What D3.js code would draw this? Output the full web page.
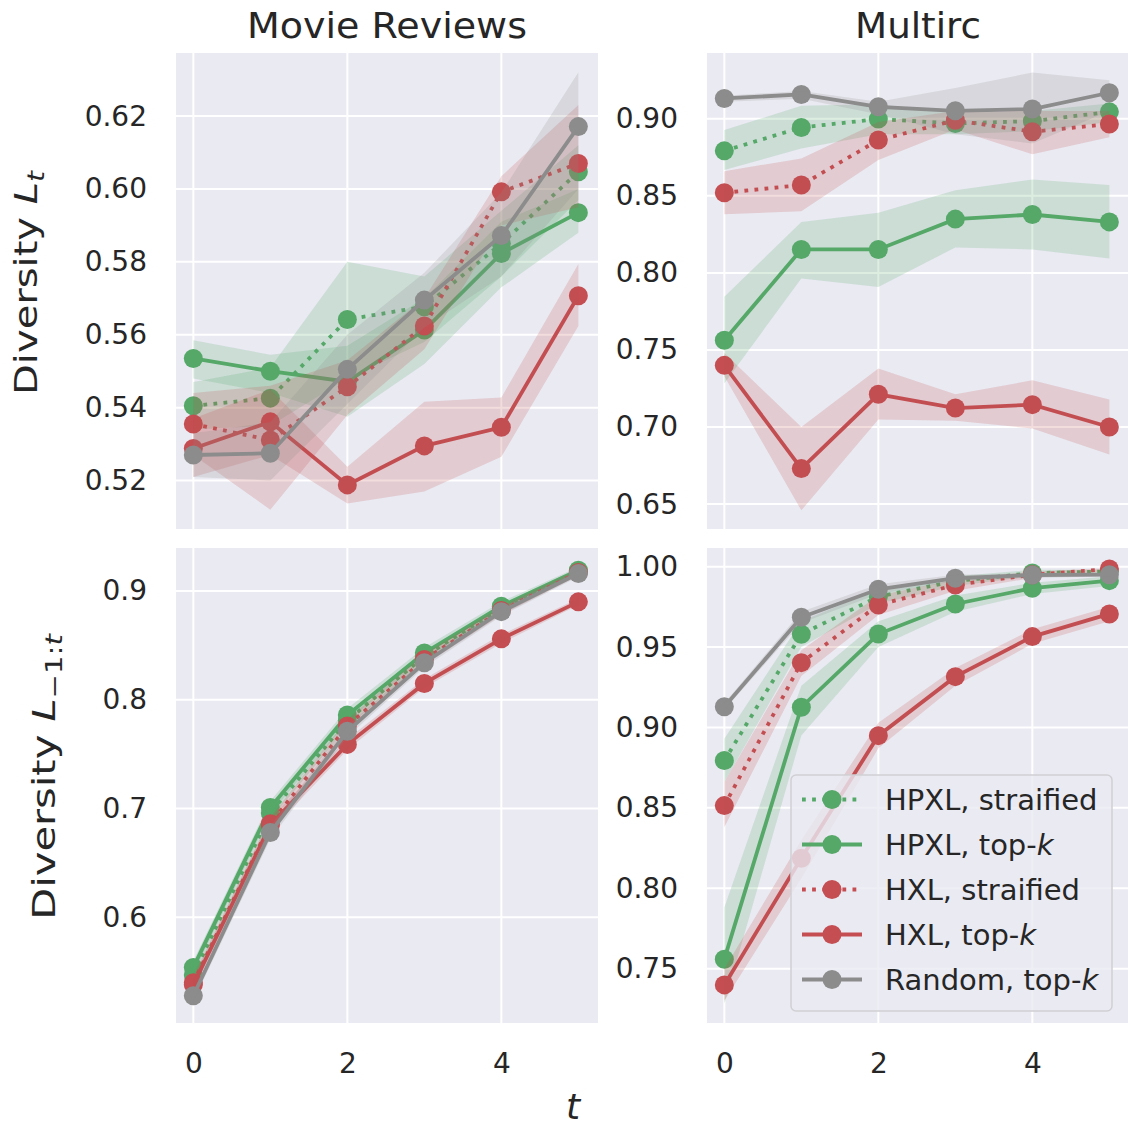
<!DOCTYPE html>
<html>
<head>
<meta charset="utf-8">
<script src="https://cdn.jsdelivr.net/npm/d3@7"></script>
<style>
  body { margin: 0; background: #fff; }
  svg { display: block; }
</style>
</head>
<body>
<div id="chart"></div>
<script>
/* DATA
------------------------------------------------------
*/
const steps = [0, 1, 2, 3, 4, 5];
const seriesNames = ["HPXL, straified", "HPXL, top-k", "HXL, straified", "HXL, top-k", "Random, top-k"];
const seriesColors = ["#55A868", "#55A868", "#C44E52", "#C44E52", "#8C8C8C"];
const seriesDotted = [true, false, true, false, false];

const panelTitles = ["Movie Reviews", "Multirc"];
const xTicks = [0, 2, 4];

// Movie Reviews, L_t
const mrLtTicks = [0.52, 0.54, 0.56, 0.58, 0.60, 0.62];
const mrLtMean = [
  [0.5405, 0.5426, 0.5642, 0.5677, 0.5850, 0.6047],
  [0.5535, 0.5500, 0.5471, 0.5613, 0.5823, 0.5935],
  [0.5355, 0.5311, 0.5457, 0.5624, 0.5992, 0.6070],
  [0.5288, 0.5361, 0.5188, 0.5295, 0.5346, 0.5707],
  [0.5270, 0.5275, 0.5505, 0.5695, 0.5872, 0.6171]
];
const mrLtLo = [
  [0.5340, 0.5350, 0.5480, 0.5580, 0.5760, 0.5970],
  [0.5480, 0.5440, 0.5375, 0.5520, 0.5730, 0.5880],
  [0.5270, 0.5120, 0.5380, 0.5560, 0.5900, 0.5950],
  [0.5210, 0.5270, 0.5137, 0.5170, 0.5265, 0.5624],
  [0.5210, 0.5200, 0.5410, 0.5620, 0.5760, 0.6000]
];
const mrLtHi = [
  [0.5470, 0.5510, 0.5800, 0.5760, 0.5940, 0.6120],
  [0.5585, 0.5545, 0.5570, 0.5700, 0.5910, 0.6000],
  [0.5440, 0.5460, 0.5530, 0.5700, 0.6035, 0.6230],
  [0.5370, 0.5450, 0.5238, 0.5416, 0.5428, 0.5794],
  [0.5330, 0.5360, 0.5600, 0.5770, 0.5990, 0.6320]
];

// Multirc, L_t
const mcLtTicks = [0.65, 0.70, 0.75, 0.80, 0.85, 0.90];
const mcLtMean = [
  [0.8792, 0.8944, 0.8998, 0.8970, 0.8985, 0.9045],
  [0.7563, 0.8152, 0.8152, 0.8349, 0.8379, 0.8331],
  [0.8520, 0.8570, 0.8862, 0.8990, 0.8916, 0.8966],
  [0.7400, 0.6730, 0.7212, 0.7123, 0.7145, 0.7000],
  [0.9132, 0.9158, 0.9078, 0.9052, 0.9063, 0.9169]
];
const mcLtLo = [
  [0.8667, 0.8808, 0.8900, 0.8900, 0.8920, 0.8980],
  [0.7282, 0.7964, 0.7909, 0.8165, 0.8152, 0.8093],
  [0.8380, 0.8400, 0.8732, 0.8930, 0.8770, 0.8880],
  [0.7330, 0.6459, 0.7048, 0.7040, 0.6990, 0.6822],
  [0.9110, 0.9130, 0.9030, 0.8900, 0.8840, 0.9050]
];
const mcLtHi = [
  [0.8927, 0.9085, 0.9095, 0.9040, 0.9050, 0.9100],
  [0.7845, 0.8331, 0.8390, 0.8537, 0.8606, 0.8570],
  [0.8660, 0.8743, 0.8980, 0.9050, 0.9050, 0.9050],
  [0.7480, 0.7000, 0.7379, 0.7212, 0.7303, 0.7178],
  [0.9150, 0.9180, 0.9110, 0.9200, 0.9300, 0.9250]
];

// Movie Reviews, L_{-1:t}
const mrCumTicks = [0.6, 0.7, 0.8, 0.9];
const mrCumMean = [
  [0.547, 0.696, 0.781, 0.840, 0.884, 0.918],
  [0.554, 0.701, 0.786, 0.843, 0.886, 0.919],
  [0.540, 0.686, 0.776, 0.837, 0.882, 0.917],
  [0.538, 0.685, 0.759, 0.815, 0.856, 0.890],
  [0.528, 0.678, 0.771, 0.834, 0.881, 0.916]
];
const mrCumLo = [
  [0.541, 0.690, 0.775, 0.835, 0.880, 0.915],
  [0.548, 0.695, 0.780, 0.838, 0.882, 0.916],
  [0.534, 0.680, 0.770, 0.832, 0.878, 0.914],
  [0.533, 0.679, 0.754, 0.811, 0.852, 0.887],
  [0.523, 0.672, 0.766, 0.830, 0.877, 0.913]
];
const mrCumHi = [
  [0.553, 0.702, 0.787, 0.845, 0.888, 0.921],
  [0.560, 0.707, 0.792, 0.848, 0.890, 0.922],
  [0.546, 0.692, 0.782, 0.842, 0.886, 0.920],
  [0.543, 0.691, 0.764, 0.819, 0.860, 0.893],
  [0.533, 0.684, 0.776, 0.838, 0.885, 0.919]
];

// Multirc, L_{-1:t}
const mcCumTicks = [0.75, 0.80, 0.85, 0.90, 0.95, 1.00];
const mcCumMean = [
  [0.8794, 0.9580, 0.9813, 0.9910, 0.9960, 0.9970],
  [0.7559, 0.9126, 0.9581, 0.9768, 0.9866, 0.9913],
  [0.8514, 0.9403, 0.9762, 0.9886, 0.9950, 0.9985],
  [0.7399, 0.8187, 0.8949, 0.9316, 0.9565, 0.9706],
  [0.9129, 0.9685, 0.9859, 0.9928, 0.9948, 0.9950]
];
const mcCumLo = [
  [0.866, 0.950, 0.977, 0.988, 0.994, 0.996],
  [0.728, 0.895, 0.950, 0.972, 0.983, 0.988],
  [0.838, 0.932, 0.970, 0.985, 0.993, 0.997],
  [0.730, 0.806, 0.887, 0.926, 0.952, 0.966],
  [0.911, 0.965, 0.983, 0.991, 0.993, 0.994]
];
const mcCumHi = [
  [0.893, 0.966, 0.986, 0.994, 0.998, 0.998],
  [0.788, 0.926, 0.966, 0.982, 0.990, 0.994],
  [0.866, 0.948, 0.982, 0.992, 0.997, 0.999],
  [0.750, 0.830, 0.903, 0.937, 0.961, 0.975],
  [0.915, 0.972, 0.989, 0.995, 0.996, 0.996]
];

/* INITIATE
------------------------------------------------------
*/
const width = 1128;
const height = 1129;
const font = "'DejaVu Sans', sans-serif";
const textColor = "#262626";
const lineW = 3.8;
const markerR = 9.5;

const svg = d3.select("#chart").append("svg")
  .attr("width", width)
  .attr("height", height)
  .attr("font-family", font);

const cols = [{x0: 176, x1: 598}, {x0: 707, x1: 1129}];
const rows = [{y0: 53, y1: 529}, {y0: 548, y1: 1023}];

const panels = [
  {col: 0, row: 0, dom: [0.5067, 0.6373], ticks: mrLtTicks, fmt: ".2f", mean: mrLtMean, lo: mrLtLo, hi: mrLtHi},
  {col: 1, row: 0, dom: [0.6338, 0.9427], ticks: mcLtTicks, fmt: ".2f", mean: mcLtMean, lo: mcLtLo, hi: mcLtHi},
  {col: 0, row: 1, dom: [0.5029, 0.9395], ticks: mrCumTicks, fmt: ".1f", mean: mrCumMean, lo: mrCumLo, hi: mrCumHi},
  {col: 1, row: 1, dom: [0.7162, 1.0116], ticks: mcCumTicks, fmt: ".2f", mean: mcCumMean, lo: mcCumLo, hi: mcCumHi}
];

/* PANELS
------------------------------------------------------
*/
panels.forEach(function(p, pi) {
  const c = cols[p.col], r = rows[p.row];
  const x = d3.scaleLinear().domain([-0.225, 5.255]).range([c.x0, c.x1]);
  const y = d3.scaleLinear().domain(p.dom).range([r.y1, r.y0]);

  const g = svg.append("g");

  g.append("rect")
    .attr("x", c.x0).attr("y", r.y0)
    .attr("width", c.x1 - c.x0).attr("height", r.y1 - r.y0)
    .attr("fill", "#EAEAF2");

  // grid
  g.selectAll(".hgrid").data(p.ticks).enter().append("line")
    .attr("x1", c.x0).attr("x2", c.x1)
    .attr("y1", d => y(d)).attr("y2", d => y(d))
    .attr("stroke", "#fff").attr("stroke-width", 2);
  g.selectAll(".vgrid").data(xTicks).enter().append("line")
    .attr("x1", d => x(d)).attr("x2", d => x(d))
    .attr("y1", r.y0).attr("y2", r.y1)
    .attr("stroke", "#fff").attr("stroke-width", 2);

  // y axis labels
  const ya = g.append("g")
    .attr("transform", "translate(" + c.x0 + ",0)")
    .call(d3.axisLeft(y).tickValues(p.ticks).tickFormat(d3.format(p.fmt)).tickSize(0).tickPadding(29));
  ya.select(".domain").remove();
  ya.attr("font-size", 28).attr("font-family", font).attr("color", textColor);

  // x axis labels only on bottom row
  if (p.row === 1) {
    const xa = g.append("g")
      .attr("transform", "translate(0," + r.y1 + ")")
      .call(d3.axisBottom(x).tickValues(xTicks).tickFormat(d3.format("d")).tickSize(0).tickPadding(30));
    xa.select(".domain").remove();
    xa.attr("font-size", 28).attr("font-family", font).attr("color", textColor);
  }

  // clip
  const clipId = "clip" + pi;
  svg.append("clipPath").attr("id", clipId)
    .append("rect")
    .attr("x", c.x0).attr("y", r.y0)
    .attr("width", c.x1 - c.x0).attr("height", r.y1 - r.y0);

  const plot = g.append("g").attr("clip-path", "url(#" + clipId + ")");

  const line = d3.line().x((d, i) => x(steps[i])).y(d => y(d));

  seriesNames.forEach(function(name, si) {
    const col = seriesColors[si];
    plot.append("path")
      .attr("d", line(p.mean[si]))
      .attr("fill", "none")
      .attr("stroke", col)
      .attr("stroke-width", lineW)
      .attr("stroke-dasharray", seriesDotted[si] ? "3.8,6.3" : null);
    plot.selectAll(".m" + si).data(p.mean[si]).enter().append("circle")
      .attr("cx", (d, i) => x(steps[i]))
      .attr("cy", d => y(d))
      .attr("r", markerR)
      .attr("fill", col);
    const area = d3.area()
      .x((d, i) => x(steps[i]))
      .y0((d, i) => y(p.lo[si][i]))
      .y1((d, i) => y(p.hi[si][i]));
    plot.append("path")
      .attr("d", area(steps))
      .attr("fill", col)
      .attr("fill-opacity", 0.2);
  });

  if (p.row === 0) {
    const title = panelTitles[p.col];
    svg.append("text")
      .attr("x", (c.x0 + c.x1) / 2).attr("y", 38)
      .attr("text-anchor", "middle")
      .attr("font-size", 36)
      .attr("textLength", title.length > 10 ? 280 : 126)
      .attr("lengthAdjust", "spacingAndGlyphs")
      .attr("fill", textColor)
      .text(title);
  }
});

/* AXIS LABELS
------------------------------------------------------
*/
const yl1 = svg.append("text")
  .attr("transform", "translate(37,283) rotate(-90) scale(1.25,1)")
  .attr("text-anchor", "middle")
  .attr("font-size", 32)
  .attr("fill", textColor);
yl1.append("tspan").text("Diversity ");
yl1.append("tspan").attr("font-style", "italic").text("L");
yl1.append("tspan").attr("font-style", "italic").attr("font-size", 22.4).attr("dy", 7).text("t");

const yl2 = svg.append("text")
  .attr("transform", "translate(55,777) rotate(-90) scale(1.3,1)")
  .attr("text-anchor", "middle")
  .attr("font-size", 32)
  .attr("fill", textColor);
yl2.append("tspan").text("Diversity ");
yl2.append("tspan").attr("font-style", "italic").text("L");
yl2.append("tspan").attr("font-size", 22.4).attr("dy", 7).text("\u22121:");
yl2.append("tspan").attr("font-style", "italic").attr("font-size", 22.4).text("t");

svg.append("text")
  .attr("x", 573).attr("y", 1119)
  .attr("text-anchor", "middle")
  .attr("font-size", 36)
  .attr("font-style", "italic")
  .attr("fill", textColor)
  .text("t");

/* LEGEND
------------------------------------------------------
*/
const leg = svg.append("g");
leg.append("rect")
  .attr("x", 791).attr("y", 775)
  .attr("width", 321).attr("height", 236)
  .attr("rx", 5)
  .attr("fill", "#EAEAF2").attr("fill-opacity", 0.8)
  .attr("stroke", "#d0d0d4").attr("stroke-width", 1.5);

const legY = d3.scaleLinear().domain([0, 4]).range([799.5, 979.5]);
seriesNames.forEach(function(name, si) {
  const yy = legY(si);
  leg.append("line")
    .attr("x1", 802).attr("x2", 862)
    .attr("y1", yy).attr("y2", yy)
    .attr("stroke", seriesColors[si])
    .attr("stroke-width", lineW)
    .attr("stroke-dasharray", seriesDotted[si] ? "3.8,6.3" : null);
  leg.append("circle")
    .attr("cx", 832).attr("cy", yy).attr("r", markerR)
    .attr("fill", seriesColors[si]);
  const t = leg.append("text")
    .attr("x", 885).attr("y", yy)
    .attr("dy", "0.35em")
    .attr("font-size", 29)
    .attr("fill", textColor);
  const parts = name.split("-k");
  if (parts.length > 1) {
    t.append("tspan").text(parts[0] + "-");
    t.append("tspan").attr("font-style", "italic").text("k");
  } else {
    t.text(name);
  }
});
</script>
</body>
</html>
